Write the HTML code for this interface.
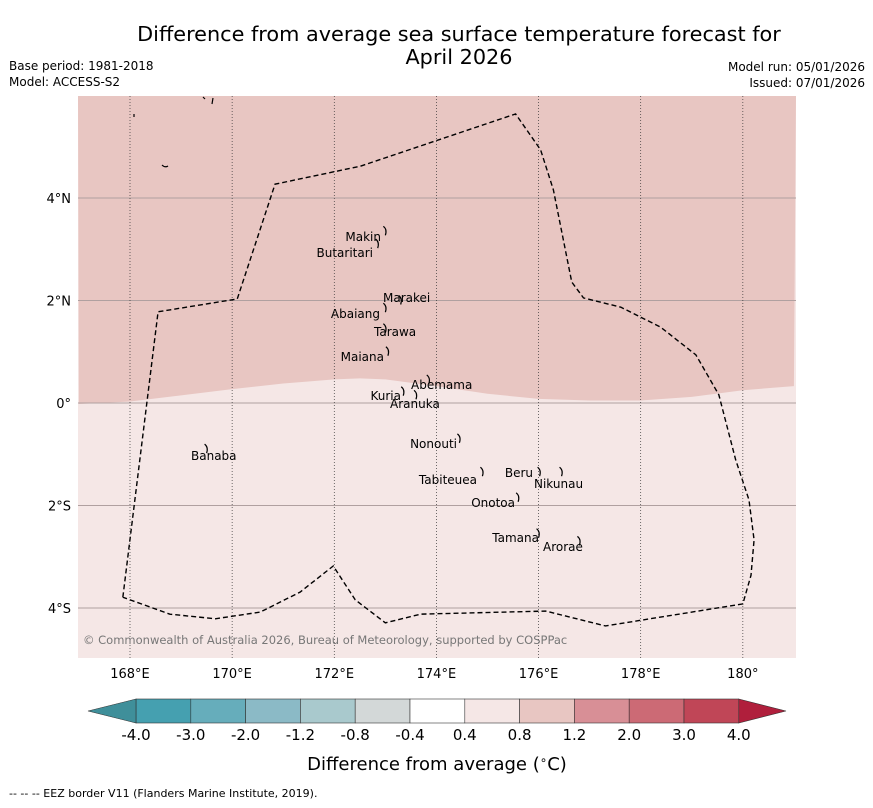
<!DOCTYPE html>
<html><head><meta charset="utf-8"><style>
body{margin:0;background:#fff;font-family:"DejaVu Sans","Liberation Sans",sans-serif;}
svg text{font-family:"DejaVu Sans","Liberation Sans",sans-serif;}
</style></head><body>
<svg id="c" width="873" height="804" xmlns="http://www.w3.org/2000/svg">
<text x="459" y="41" font-size="20.8" text-anchor="middle">Difference from average sea surface temperature forecast for</text>
<text x="459" y="64" font-size="20.8" text-anchor="middle">April 2026</text>
<text x="9" y="70" font-size="12">Base period: 1981-2018</text>
<text x="9" y="86" font-size="12">Model: ACCESS-S2</text>
<text x="865" y="71" font-size="12" text-anchor="end">Model run: 05/01/2026</text>
<text x="865" y="87" font-size="12" text-anchor="end">Issued: 07/01/2026</text>
<g id="map"></g>
<g id="cbar"></g>
<text x="437" y="770" font-size="18" text-anchor="middle">Difference from average (<tspan font-size="12" dy="-6">∘</tspan><tspan dy="6">C)</tspan></text>
<text x="9" y="797" font-size="11">--  --  -- EEZ border V11 (Flanders Marine Institute, 2019).</text>
</svg>
<script>
const NS="http://www.w3.org/2000/svg";
const lonTicks=[168,170,172,174,176,178,180];
const lonLabels=["168°E","170°E","172°E","174°E","176°E","178°E","180°"];
const latTicks=[4,2,0,-2,-4];
const latLabels=["4°N","2°N","0°","2°S","4°S"];
const boundaryLon=[167,168,169,170,171,172,172.5,173,174,175,176,177,178,179,180,181];
const boundaryLat=[-0.02,0.03,0.15,0.27,0.38,0.46,0.48,0.46,0.33,0.18,0.08,0.05,0.05,0.12,0.25,0.33];
const eezLon=[167.86,168.55,170.1,170.84,172.51,175.55,176.04,176.29,176.65,176.88,177.61,178.39,179.08,179.53,179.86,180.12,180.22,180.16,180,177.31,176.14,173.69,173.0,172.41,171.98,171.33,170.55,169.67,168.78,167.86];
const eezLat=[-3.79,1.78,2.03,4.27,4.62,5.64,4.94,4.16,2.36,2.05,1.87,1.48,0.94,0.16,-1.11,-1.89,-2.67,-3.36,-3.92,-4.35,-4.06,-4.12,-4.29,-3.84,-3.18,-3.69,-4.08,-4.21,-4.12,-3.79];
const islandNames=["Makin","Butaritari","Marakei","Abaiang","Tarawa","Maiana","Abemama","Kuria","Aranuka","Nonouti","Tabiteuea","Beru","Nikunau","Onotoa","Tamana","Arorae","Banaba"];
const islandLon=[173.0,172.85,173.3,173.0,173.0,173.05,173.85,173.35,173.6,174.45,174.9,176.02,176.45,175.6,176.0,176.8,169.5];
const islandLat=[3.35,3.1,2.0,1.85,1.45,1.0,0.45,0.22,0.15,-0.7,-1.35,-1.35,-1.35,-1.85,-2.55,-2.7,-0.9];
const labelX=[381,373,383,380,374,384,411,401,390,457,477,533,534,515,539,543,191];
const labelY=[241,257,302,318,336,361,389,400,408,448,484,477,488,507,542,551,460];
const anchors=["end","end","start","end","start","end","start","end","start","end","end","end","start","end","end","start","start"];
const cbLevels=["-4.0","-3.0","-2.0","-1.2","-0.8","-0.4","0.4","0.8","1.2","2.0","3.0","4.0"];
const cbColors=["#45a0b0","#66adbb","#8bbac6","#a9c9cd","#d3d8d8","#ffffff","#f5e7e6","#e8c6c2","#d88f96","#cc6a75","#c04657"];
const X0=78,X1=796,Y0=96,Y1=658;
const x=lon=>130+(lon-168)*51.07;
const y=lat=>403-lat*51.25;
function el(t,a,p){const e=document.createElementNS(NS,t);for(const k in a)e.setAttribute(k,a[k]);p.appendChild(e);return e;}
const map=document.getElementById('map');
const upper=el('rect',{x:X0,y:Y0,width:X1-X0,height:Y1-Y0,fill:'#f5e7e6'},map);


let d=`M${X0},${Y0} L${X1},${Y0} `;
for(let i=boundaryLon.length-1;i>=0;i--)d+=`L${Math.min(X1,Math.max(X0,x(boundaryLon[i])))},${y(boundaryLat[i])} `;
d+='Z';
const hi=el('path',{d,fill:'#e8c6c2'},map);


latTicks.forEach((v,i)=>{
 const l=el('line',{x1:X0,x2:X1,y1:y(v),y2:y(v),stroke:'#b0a0a0','stroke-width':1},map);
 
 
 const t=el('text',{x:71,y:y(v)+5,'font-size':13,'text-anchor':'end'},map);t.textContent=latLabels[i];
 
 
});
lonTicks.forEach((v,i)=>{
 const l=el('line',{x1:x(v),x2:x(v),y1:Y0,y2:Y1,stroke:'#333','stroke-width':0.7,'stroke-dasharray':'1,2'},map);
 
 
 const t=el('text',{x:x(v),y:678,'font-size':13,'text-anchor':'middle'},map);t.textContent=lonLabels[i];
 
 
});
const eez=el('path',{d:eezLon.map((v,i)=>(i?'L':'M')+x(v)+','+y(eezLat[i])).join(' '),fill:'none',stroke:'#000','stroke-width':1.4,'stroke-dasharray':'5,3'},map);


const extra=el('path',{d:'M134,114 v3 M203,97 l2,2 M213,98 l-1,6 M162,165 q3,3 6,1',fill:'none',stroke:'#000','stroke-width':1.2},map);


islandNames.forEach((n,i)=>{
 const px=x(islandLon[i]),py=y(islandLat[i]);
 const s=el('path',{d:`M${px-2},${py-5} q4,3 2,9`,fill:'none',stroke:'#000','stroke-width':1.2},map);
 
 
 const t=el('text',{x:labelX[i],y:labelY[i],'font-size':12,'text-anchor':anchors[i]},map);t.textContent=n;
 
 
});
const cp=el('text',{x:83,y:644,'font-size':11.5,fill:'#777'},map);cp.textContent='© Commonwealth of Australia 2026, Bureau of Meteorology, supported by COSPPac';


const cb=document.getElementById('cbar');
const bx=136,bw=54.8,by=699,bh=24;
cbColors.forEach((c,i)=>{
 const r=el('rect',{x:bx+i*bw,y:by,width:bw,height:bh,fill:c,stroke:'#333','stroke-width':0.6},cb);
 
 
});
const end=bx+cbColors.length*bw;
const lt=el('path',{d:`M${bx},${by} L88,${by+bh/2} L${bx},${by+bh}Z`,fill:'#3f8f9a',stroke:'#333','stroke-width':0.6},cb);


const rt=el('path',{d:`M${end},${by} L786,${by+bh/2} L${end},${by+bh}Z`,fill:'#b01f3c',stroke:'#333','stroke-width':0.6},cb);


cbLevels.forEach((v,i)=>{
 const t=el('text',{x:bx+i*bw,y:740,'font-size':15,'text-anchor':'middle'},cb);t.textContent=v;
 
 
});
</script>
</body></html>
